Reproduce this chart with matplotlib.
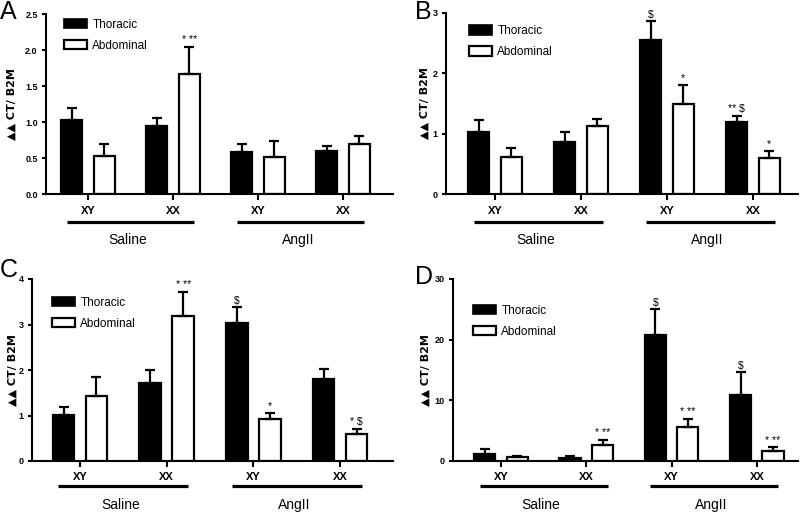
import matplotlib
matplotlib.use('Agg')
import matplotlib.pyplot as plt
from matplotlib.patches import Patch

plt.rcParams['font.family'] = ['Liberation Sans', 'DejaVu Sans']

W, H = 800, 513
fig = plt.figure(figsize=(8, 5.13), dpi=100)

genotypes = ['XY', 'XX', 'XY', 'XX']
treatments = ['Saline', 'AngII']
series = ['Thoracic', 'Abdominal']
ylabel = '▲▲ CT/ B2M'

# Panel A
a_thor = [1.03, 0.94, 0.59, 0.60]
a_thor_err = [0.17, 0.11, 0.11, 0.07]
a_abd = [0.53, 1.67, 0.52, 0.69]
a_abd_err = [0.17, 0.37, 0.21, 0.12]
a_thor_note = ['', '', '', '']
a_abd_note = ['', '* **', '', '']
a_yticks = [0.0, 0.5, 1.0, 1.5, 2.0, 2.5]
a_yticklabels = ['0.0', '0.5', '1.0', '1.5', '2.0', '2.5']

# Panel B
b_thor = [1.03, 0.86, 2.55, 1.20]
b_thor_err = [0.19, 0.17, 0.31, 0.10]
b_abd = [0.62, 1.13, 1.50, 0.60]
b_abd_err = [0.14, 0.11, 0.31, 0.12]
b_thor_note = ['', '', '$', '** $']
b_abd_note = ['', '', '*', '*']
b_yticks = [0, 1, 2, 3]
b_yticklabels = ['0', '1', '2', '3']

# Panel C
c_thor = [1.01, 1.72, 3.03, 1.81]
c_thor_err = [0.17, 0.27, 0.35, 0.21]
c_abd = [1.42, 3.18, 0.92, 0.59]
c_abd_err = [0.42, 0.54, 0.13, 0.11]
c_thor_note = ['', '', '$', '']
c_abd_note = ['', '* **', '*', '* $']
c_yticks = [0, 1, 2, 3, 4]
c_yticklabels = ['0', '1', '2', '3', '4']

# Panel D
d_thor = [1.15, 0.55, 20.8, 10.8]
d_thor_err = [0.78, 0.25, 4.2, 3.8]
d_abd = [0.60, 2.64, 5.6, 1.7]
d_abd_err = [0.22, 0.82, 1.4, 0.55]
d_thor_note = ['', '', '$', '$']
d_abd_note = ['', '* **', '* **', '* **']
d_yticks = [0, 10, 20, 30]
d_yticklabels = ['0', '10', '20', '30']

panels = [
    dict(letter='A', thor=a_thor, thor_err=a_thor_err, abd=a_abd, abd_err=a_abd_err,
         thor_note=a_thor_note, abd_note=a_abd_note, yticks=a_yticks, ytl=a_yticklabels,
         left=46, right=393, top=14, bottom=194, t0=88, sp=85.0,
         ylab_x=12, let_xy=(0, 0), leg=(64, 26), offs=(17, 28, 46)),
    dict(letter='B', thor=b_thor, thor_err=b_thor_err, abd=b_abd, abd_err=b_abd_err,
         thor_note=b_thor_note, abd_note=b_abd_note, yticks=b_yticks, ytl=b_yticklabels,
         left=446, right=798, top=13, bottom=194, t0=495, sp=86.0,
         ylab_x=425, let_xy=(415, 0), leg=(469, 32.5), offs=(17, 28, 46)),
    dict(letter='C', thor=c_thor, thor_err=c_thor_err, abd=c_abd, abd_err=c_abd_err,
         thor_note=c_thor_note, abd_note=c_abd_note, yticks=c_yticks, ytl=c_yticklabels,
         left=32, right=393, top=279, bottom=461, t0=80, sp=86.7,
         ylab_x=12.5, let_xy=(0, 258), leg=(52, 304), offs=(16, 25, 44)),
    dict(letter='D', thor=d_thor, thor_err=d_thor_err, abd=d_abd, abd_err=d_abd_err,
         thor_note=d_thor_note, abd_note=d_abd_note, yticks=d_yticks, ytl=d_yticklabels,
         left=453, right=798, top=279, bottom=461, t0=501, sp=85.3,
         ylab_x=426, let_xy=(415, 265), leg=(473, 312), offs=(16, 25, 44)),
]

bw = 0.25
off = 0.19
lw = 1.6

for p in panels:
    L, R, T, B = p['left'], p['right'], p['top'], p['bottom']
    ax = fig.add_axes([L / W, 1 - B / H, (R - L) / W, (B - T) / H])
    hpx = B - T
    x = list(range(len(genotypes)))
    xt = [i - off for i in x]
    xa = [i + off for i in x]
    ax.bar(xt, p['thor'], width=bw, color='black', edgecolor='black', linewidth=lw, zorder=2,
           label=series[0])
    ax.bar(xa, p['abd'], width=bw, color='white', edgecolor='black', linewidth=lw, zorder=2,
           label=series[1])
    zeros = [0] * len(x)
    ax.errorbar(xt, p['thor'], yerr=[zeros, p['thor_err']], fmt='none', ecolor='black',
                elinewidth=lw, capsize=3.8, capthick=lw, zorder=3)
    ax.errorbar(xa, p['abd'], yerr=[zeros, p['abd_err']], fmt='none', ecolor='black',
                elinewidth=lw, capsize=3.8, capthick=lw, zorder=3)
    for xs, vals, errs, notes in [(xt, p['thor'], p['thor_err'], p['thor_note']),
                                  (xa, p['abd'], p['abd_err'], p['abd_note'])]:
        for xi, v, e, n in zip(xs, vals, errs, notes):
            if n:
                ax.annotate(n, xy=(xi, v + e), xytext=(0, 1.2), textcoords='offset points',
                            ha='center', va='bottom', fontsize=7.5)

    ax.set_xlim((L - p['t0']) / p['sp'], (R - p['t0']) / p['sp'])
    ax.set_ylim(p['yticks'][0], p['yticks'][-1])
    ax.set_yticks(p['yticks'])
    ax.set_yticklabels(p['ytl'], fontsize=6.5, fontweight='bold')
    ax.set_xticks(x)
    ax.set_xticklabels([])
    for s in ['top', 'right']:
        ax.spines[s].set_visible(False)
    for s in ['left', 'bottom']:
        ax.spines[s].set_linewidth(1.5)
    ax.tick_params(axis='y', length=3, width=1.5, pad=3)
    ax.tick_params(axis='x', length=4, width=1.5)

    o_lab, o_line, o_treat = p['offs']
    tr = ax.get_xaxis_transform()
    for xi, g in zip(x, genotypes):
        ax.text(xi, -o_lab / hpx, g, transform=tr, ha='center', va='center',
                fontsize=8, fontweight='bold')
    for k, t in enumerate(treatments):
        mid = 2 * k + 0.5
        ax.plot([mid - 0.75, mid + 0.75], [-o_line / hpx] * 2, transform=tr, color='black',
                lw=2.3, clip_on=False, solid_capstyle='butt')
        ax.text(mid - 0.03, -o_treat / hpx, t, transform=tr, ha='center', va='center',
                fontsize=10)

    fig.text(p['ylab_x'] / W, 1 - (T + B) / 2 / H, ylabel, rotation=90, ha='center',
             va='center', fontsize=8, fontweight='bold', family=['DejaVu Sans'])
    fig.text(p['let_xy'][0] / W, 1 - p['let_xy'][1] / H, p['letter'], ha='left', va='top',
             fontsize=18)

    handles = [Patch(facecolor='black', edgecolor='black', linewidth=1.2),
               Patch(facecolor='white', edgecolor='black', linewidth=1.6)]
    lx, ly = p['leg']
    fs = 8.5
    fpx = fs * 100 / 72
    ax.legend(handles, series, loc='upper left',
              bbox_to_anchor=((lx - L) / (R - L), (B - (ly - 0.62 * fpx)) / hpx),
              frameon=False, fontsize=fs, borderpad=0, borderaxespad=0,
              handlelength=1.95, handleheight=0.85, handletextpad=0.45, labelspacing=0.75)

fig.savefig('out.png', dpi=100)
